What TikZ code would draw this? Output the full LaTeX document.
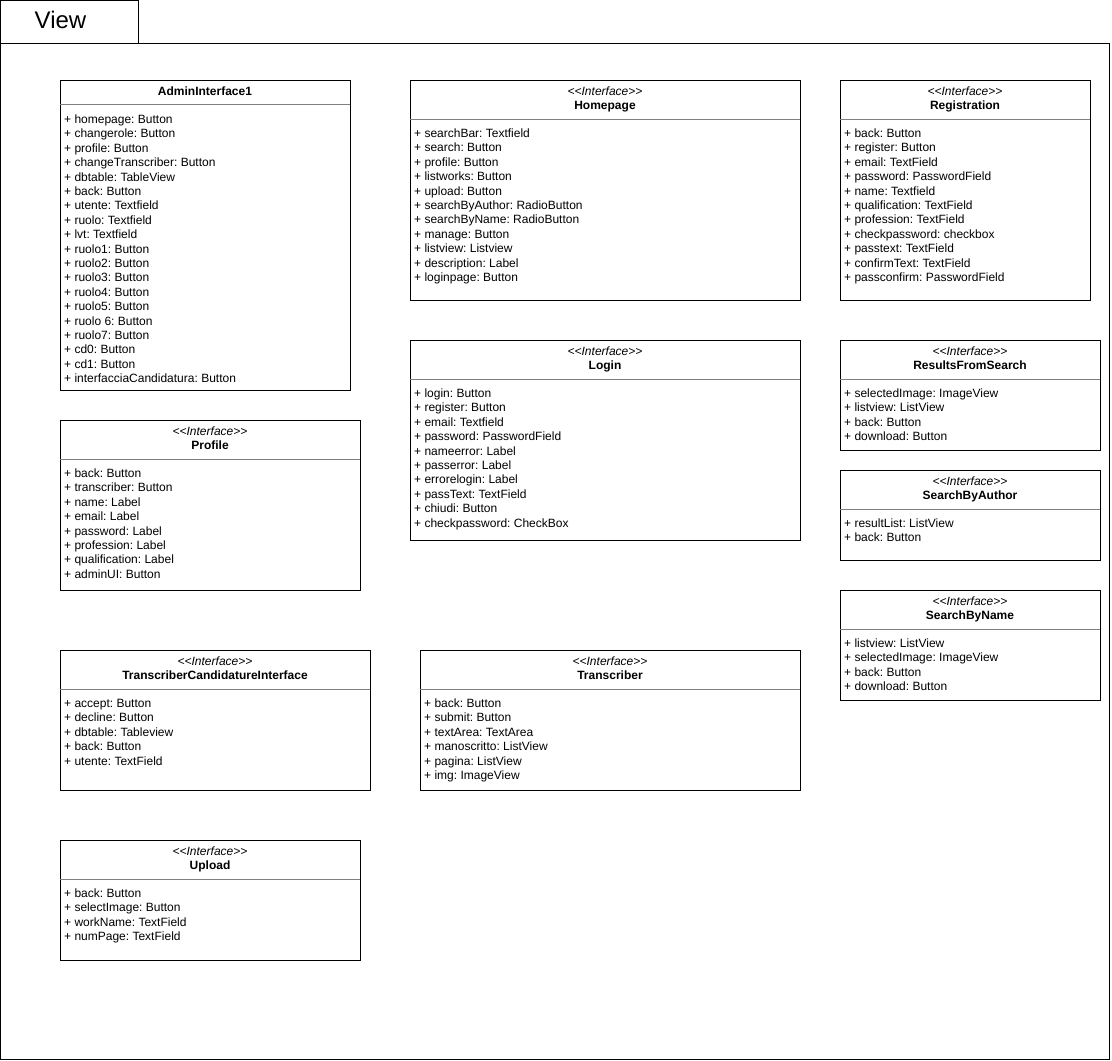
\documentclass[tikz,border=0pt]{standalone}
\usepackage{fontspec}
\setmainfont{Liberation Sans}
\frenchspacing

\tikzset{
  box/.style={draw=black, line width=1pt},
  sep/.style={draw=black!50, line width=1pt},
  stereo/.style={anchor=base, inner sep=0pt, font=\fontsize{12}{14.4}\selectfont\itshape},
  ctitle/.style={anchor=base, inner sep=0pt, font=\fontsize{12}{14.4}\selectfont\bfseries},
  attr/.style={anchor=base west, inner sep=0pt, font=\fontsize{12}{14.4}\selectfont},
}

% stereotype text, kern keeps << from turning into a guillemet
\newcommand{\ifstereo}{<\kern0pt<Interface>\kern0pt>}

% name, left, top, right, bottom, title, attributes
\newcommand{\iface}[7]{%
  \draw[box] (#2,#3) rectangle (#4,#5);
  \node[stereo] (#1-s) at ({(#2+#4)/2},#3+15) {\ifstereo};
  \node[ctitle] (#1) at ({(#2+#4)/2},#3+29.5) {#6};
  \draw[sep] (#2,#3+39) -- (#4,#3+39);
  \foreach [count=\i] \a in {#7}
    \node[attr] (#1-\i) at (#2+4,{#3+57.5+14.4*(\i-1)}) {+ \a};
}

\begin{document}
\begin{tikzpicture}[x=1pt, y=-1pt]
\useasboundingbox (0,0) rectangle (1112,1061);

% package frame
\draw[box] (0.5,0.5) rectangle (138,43);
\draw[box] (0.5,43) rectangle (1109.5,1059.5);
\node[anchor=base, inner sep=0pt, font=\fontsize{24}{28}\selectfont] (view) at (60.5,28.3) {View};

% admin box has no stereotype
\draw[box] (60,80) rectangle (350,390);
\node[ctitle] (admin) at (205,95) {AdminInterface1};
\draw[sep] (60,104) -- (350,104);
\foreach [count=\i] \a in {homepage: Button, changerole: Button, profile: Button,
  changeTranscriber: Button, dbtable: TableView, back: Button, utente: Textfield,
  ruolo: Textfield, lvt: Textfield, ruolo1: Button, ruolo2: Button, ruolo3: Button,
  ruolo4: Button, ruolo5: Button, ruolo 6: Button, ruolo7: Button, cd0: Button,
  cd1: Button, interfacciaCandidatura: Button}
  \node[attr] (admin-\i) at (64,{123.5+14.4*(\i-1)}) {+ \a};

\iface{home}{410}{80}{800}{300}{Homepage}{searchBar: Textfield, search: Button,
  profile: Button, listworks: Button, upload: Button, searchByAuthor: RadioButton,
  searchByName: RadioButton, manage: Button, listview: Listview,
  description: Label, loginpage: Button}

\iface{reg}{840}{80}{1090}{300}{Registration}{back: Button, register: Button,
  email: TextField, password: PasswordField, name: Textfield,
  qualification: TextField, profession: TextField, checkpassword: checkbox,
  passtext: TextField, confirmText: TextField, passconfirm: PasswordField}

\iface{login}{410}{340}{800}{540}{Login}{login: Button, register: Button,
  email: Textfield, password: PasswordField, nameerror: Label, passerror: Label,
  errorelogin: Label, passText: TextField, chiudi: Button,
  checkpassword: CheckBox}

\iface{results}{840}{340}{1100}{450}{ResultsFromSearch}{selectedImage: ImageView,
  listview: ListView, back: Button, download: Button}

\iface{byauthor}{840}{470}{1100}{560}{SearchByAuthor}{resultList: ListView,
  back: Button}

\iface{byname}{840}{590}{1100}{700}{SearchByName}{listview: ListView,
  selectedImage: ImageView, back: Button, download: Button}

\iface{profile}{60}{420}{360}{590}{Profile}{back: Button, transcriber: Button,
  name: Label, email: Label, password: Label, profession: Label,
  qualification: Label, adminUI: Button}

\iface{cand}{60}{650}{370}{790}{TranscriberCandidatureInterface}{accept: Button,
  decline: Button, dbtable: Tableview, back: Button, utente: TextField}

\iface{transc}{420}{650}{800}{790}{Transcriber}{back: Button, submit: Button,
  textArea: TextArea, manoscritto: ListView, pagina: ListView, img: ImageView}

\iface{upload}{60}{840}{360}{960}{Upload}{back: Button, selectImage: Button,
  workName: TextField, numPage: TextField}
\end{tikzpicture}
\end{document}
